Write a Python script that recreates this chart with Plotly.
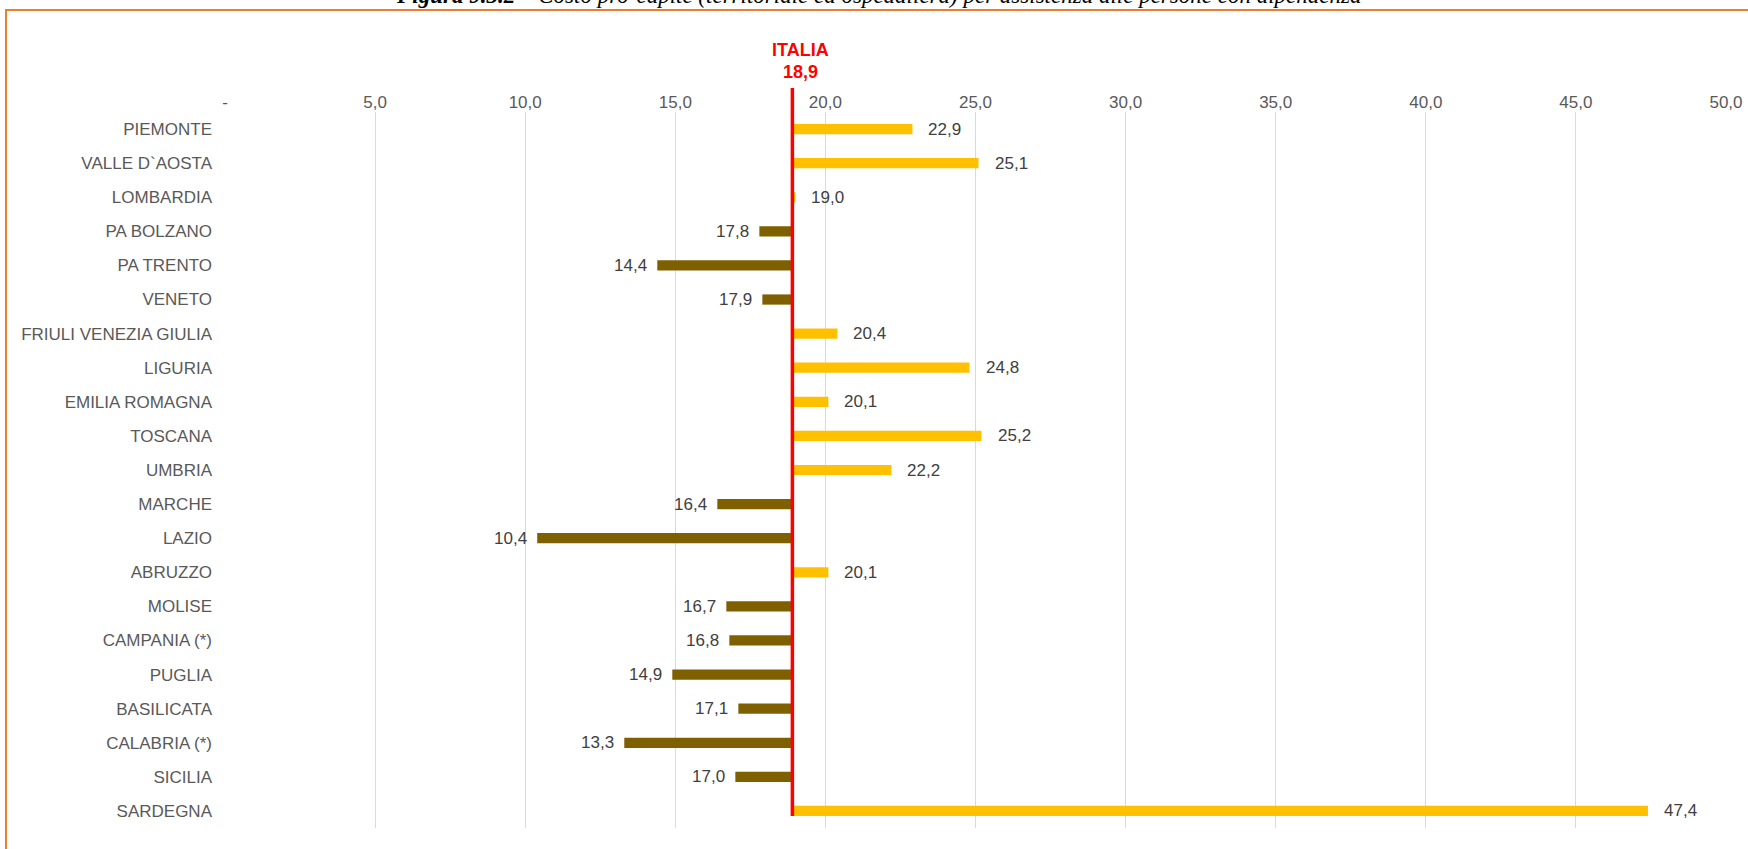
import plotly.graph_objects as go

regions = ["PIEMONTE", "VALLE D`AOSTA", "LOMBARDIA", "PA BOLZANO", "PA TRENTO", "VENETO",
           "FRIULI VENEZIA GIULIA", "LIGURIA", "EMILIA ROMAGNA", "TOSCANA", "UMBRIA", "MARCHE",
           "LAZIO", "ABRUZZO", "MOLISE", "CAMPANIA (*)", "PUGLIA", "BASILICATA", "CALABRIA (*)",
           "SICILIA", "SARDEGNA"]
values = [22.9, 25.1, 19.0, 17.8, 14.4, 17.9, 20.4, 24.8, 20.1, 25.2, 22.2, 16.4,
          10.4, 20.1, 16.7, 16.8, 14.9, 17.1, 13.3, 17.0, 47.4]
italia = 18.9
tick_vals = [0, 5, 10, 15, 20, 25, 30, 35, 40, 45, 50]
tick_text = ["-", "5,0", "10,0", "15,0", "20,0", "25,0", "30,0", "35,0", "40,0", "45,0", "50,0"]
title_text = ("<b>Figura 9.3.2</b> – Costo pro-capite (territoriale ed ospedaliera) "
              "per assistenza alle persone con dipendenza")

GOLD = "#FFC000"
BROWN = "#7F6000"
SANS = "Liberation Sans, Arial, sans-serif"

W, H = 1748, 849
L, R, T, B = 225, 22, 112, 21
pw, ph = W - L - R, H - T - B


def px_x(p):
    return (p - L) / pw


def px_y(p):
    return (H - B - p) / ph


def fmt(v):
    return f"{v:.1f}".replace(".", ",")


colors = [GOLD if v >= italia else BROWN for v in values]

fig = go.Figure()
fig.add_trace(go.Bar(
    y=regions,
    x=[v - italia for v in values],
    base=italia,
    orientation="h",
    marker=dict(color=colors, line=dict(width=0)),
    width=0.3,
    hoverinfo="skip",
))

annotations = []
for r, v in zip(regions, values):
    pos = v >= italia
    annotations.append(dict(
        x=v, y=r, xref="x", yref="y", text=fmt(v), showarrow=False,
        xanchor="left" if pos else "right", xshift=14 if pos else -8,
        font=dict(size=17, color="#404040", family=SANS),
    ))

annotations.append(dict(
    x=italia, y=px_y(50), xref="x", yref="paper", text="<b>ITALIA</b>", showarrow=False,
    xshift=8, yanchor="middle",
    font=dict(size=18, color="#FF0000", family=SANS),
))
annotations.append(dict(
    x=italia, y=px_y(72), xref="x", yref="paper", text="<b>" + fmt(italia) + "</b>", showarrow=False,
    xshift=8, yanchor="middle",
    font=dict(size=18, color="#FF0000", family=SANS),
))
annotations.append(dict(
    x=px_x(878), y=px_y(-4), xref="paper", yref="paper", text="<i>" + title_text + "</i>",
    showarrow=False, xanchor="center", yanchor="middle",
    font=dict(size=23, color="#000000", family="Liberation Serif, Times New Roman, serif"),
))

shapes = [
    dict(type="line", xref="x", yref="paper", x0=italia, x1=italia,
         y0=px_y(88), y1=px_y(816), line=dict(color="#FF0000", width=3.5), layer="above"),
    dict(type="rect", xref="paper", yref="paper", x0=px_x(6), x1=px_x(1770),
         y0=px_y(870), y1=px_y(10), line=dict(color="#ED7D31", width=2), layer="below"),
]

fig.update_layout(
    width=W, height=H,
    margin=dict(l=L, r=R, t=T, b=B, autoexpand=False),
    paper_bgcolor="white", plot_bgcolor="white",
    showlegend=False,
    font=dict(family=SANS, color="#595959"),
    xaxis=dict(
        range=[0, 50], side="top", tickvals=tick_vals, ticktext=tick_text,
        showgrid=True, gridcolor="#D9D9D9", gridwidth=1, zeroline=False,
        showline=False, ticks="", tickfont=dict(size=17, color="#595959"),
        fixedrange=True, automargin=False,
    ),
    yaxis=dict(
        autorange="reversed", showgrid=False, zeroline=False, showline=False,
        ticks="", ticklabelstandoff=12, tickfont=dict(size=17, color="#595959"),
        fixedrange=True, automargin=False,
    ),
    annotations=annotations,
    shapes=shapes,
)

fig.write_html("out.html", config={"displayModeBar": False},
               post_script="document.body.style.margin='0';")
